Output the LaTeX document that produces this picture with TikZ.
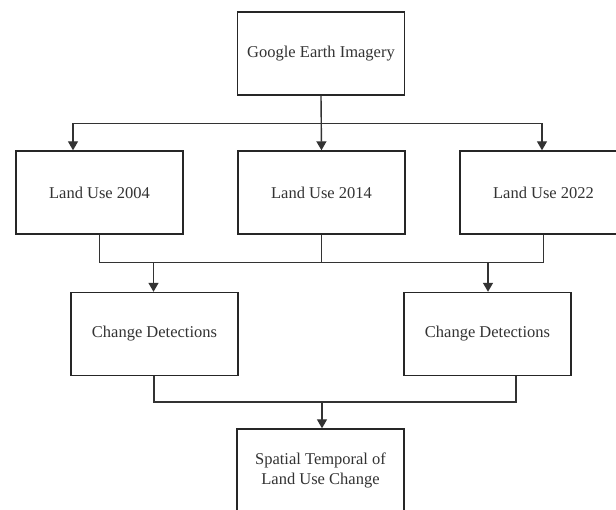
\documentclass[tikz,border=0pt]{standalone}
\usepackage{fontspec}
\setmainfont{Liberation Serif}
\usetikzlibrary{arrows.meta,calc}
\begin{document}
\begin{tikzpicture}[x=1pt,y=-1pt,
  box/.style={draw=black!85, line width=1.4pt, minimum width=167pt, minimum height=83pt,
    inner sep=0pt, align=center, font=\fontsize{16.5}{20}\selectfont, text=black!80},
  conn/.style={draw=black!80, line width=1.4pt},
  arr/.style={conn, -{Triangle[length=9pt,width=10pt]}}]
\clip (0,0) rectangle (616,510);
\fill[white] (0,0) rectangle (616,510);
\node[box] (top) at (321,53.5) {Google Earth Imagery};
\node[box] (lu04) at (99.5,192.5) {Land Use 2004};
\node[box] (lu14) at (321.5,192.5) {Land Use 2014};
\node[box] (lu22) at (543.5,192.5) {Land Use 2022};
\node[box] (cdl) at (154.5,334) {Change Detections};
\node[box] (cdr) at (487.5,334) {Change Detections};
\node[box] (st) at (320.5,470.5) {Spatial Temporal of\\Land Use Change};
% top -> row 2
\coordinate (b1) at ($(top.south)+(0,28)$);
\draw[arr] (top.south) -- (lu14.north);
\draw[arr] (b1) -| ([xshift=-26.5pt]lu04.north);
\draw[arr] (b1) -| ([xshift=-1.5pt]lu22.north);
% row 2 -> change detections
\coordinate (b2l) at ($(lu04.south)+(0,28)$);
\coordinate (b2r) at ($(lu22.south)+(0,28)$);
\draw[conn] (lu04.south) -- (b2l) -- (b2r) -- (lu22.south);
\draw[conn] (lu14.south) -- (lu14.south |- b2l);
\draw[arr] ([xshift=-1pt]cdl.north |- b2l) -- ([xshift=-1pt]cdl.north);
\draw[arr] ([xshift=0.5pt]cdr.north |- b2l) -- ([xshift=0.5pt]cdr.north);
% change detections -> final
\coordinate (b3l) at ($(cdl.south)+(-0.5,26)$);
\coordinate (b3r) at ($(cdr.south)+(28.5,26)$);
\draw[conn] ([xshift=-0.5pt]cdl.south) -- (b3l) -- (b3r) -- ([xshift=28.5pt]cdr.south);
\draw[arr] ([xshift=1.5pt]st.north |- b3l) -- ([xshift=1.5pt]st.north);
\end{tikzpicture}
\end{document}
